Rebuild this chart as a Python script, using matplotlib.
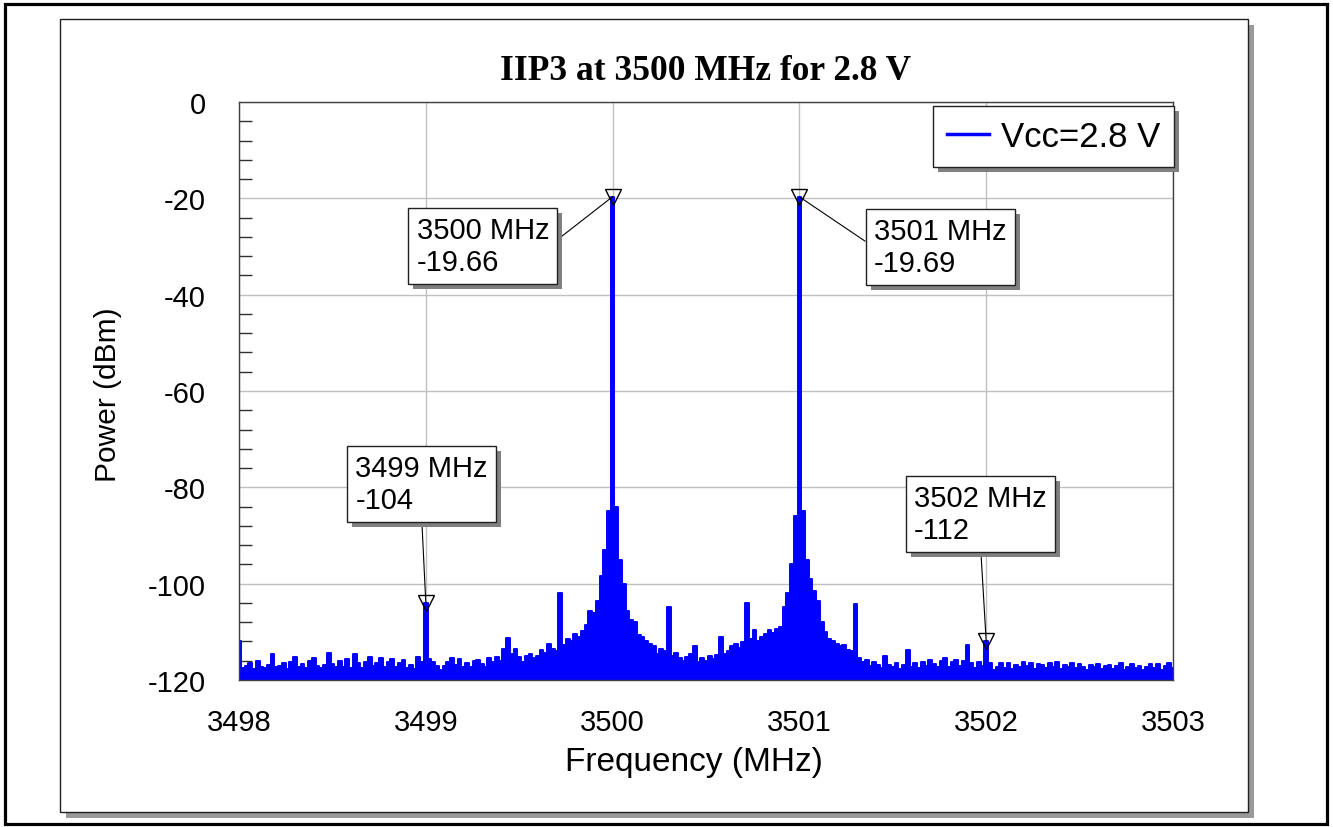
import matplotlib
matplotlib.use('Agg')
import matplotlib.pyplot as plt
import matplotlib.patheffects as pe
from matplotlib.patches import Rectangle
from matplotlib.ticker import MultipleLocator
import numpy as np

plt.rcParams['font.family'] = ['Liberation Sans', 'DejaVu Sans']
plt.rcParams['axes.unicode_minus'] = False

# measured spectrum, 0.02 MHz bins from 3498 to 3503 MHz (dBm)
power = [
    -112, -117.5, -117, -116.5, -117.8, -116, -117.2, -117.6, -116.8, -114.5,
    -117.3, -117, -116.5, -117.8, -116.2, -115.3, -117.2, -116.6, -117.5, -116,
    -115.5, -117, -117.6, -116.8, -114.3, -116.7, -117.4, -116, -117.2, -115.7,
    -117.5, -114.7, -116.5, -117.6, -116.2, -115.2, -117, -116.4, -115.4, -117.3,
    -116.2, -115.6, -117.4, -116.5, -115.8, -117.5, -116.9, -117.8, -115.3, -116.2,
    -104, -115.6, -116.2, -117, -118, -117, -116.2, -115.5, -116.8, -115.6,
    -117.2, -116.5, -117.4, -116, -115.8, -116.7, -117.2, -115.4, -116.2, -115.2,
    -116, -113.5, -111.3, -114.5, -113.5, -115.3, -116.2, -115, -114.7, -115.5,
    -115, -113.8, -114.3, -112.5, -113.6, -114, -102, -112.8, -111.5, -112,
    -110.5, -111, -109.8, -108.5, -105.6, -106, -103.5, -98.5, -93, -85,
    -19.66, -84, -95, -100, -105.7, -107.5, -108, -110.7, -111, -112,
    -112.5, -113, -114.5, -113.5, -114, -104.8, -115, -114.3, -115.5, -116,
    -115.3, -114.6, -113, -116.2, -115.4, -116, -115, -115.6, -114.8, -111,
    -114.5, -114, -113, -112.5, -113.4, -112.2, -104, -111.5, -109.6, -111.8,
    -111, -110.5, -109.6, -110.2, -109.5, -109, -104.8, -102, -96, -86,
    -19.69, -85, -95, -99, -101.5, -103.5, -108, -110, -111.5, -112,
    -112.5, -113, -112.7, -113.8, -114, -104.2, -115.5, -116.3, -115.8, -117,
    -116.2, -116.8, -117.5, -115, -116.8, -117.3, -116.5, -117.8, -116.8, -113.8,
    -117.2, -116.5, -117.6, -116.2, -117, -115.8, -116.6, -117.4, -116, -115.5,
    -117.2, -116.3, -115.8, -117, -116, -112.7, -116.5, -117.5, -116.2, -117,
    -112, -116.5, -118, -117.2, -116.4, -117.6, -116.5, -117.8, -116.8, -117.3,
    -116.2, -117, -116.4, -117.7, -116.6, -116.8, -117.6, -116.5, -117.2, -116.3,
    -117.8, -116.9, -117.2, -116.4, -117.6, -116.7, -117.3, -117.9, -116.8, -117.4,
    -116.6, -117.8, -117, -116.9, -117.7, -117.1, -116.5, -117.9, -117.2, -116.7,
    -117.6, -117, -118, -117.3, -116.7, -117.5, -116.6, -117.9, -117.1, -116.4,
    -117.6,
]
freq = np.linspace(3498, 3503, len(power))

# marker readouts
marker_freq = [3499, 3500, 3501, 3502]
marker_power = [-104, -19.66, -19.69, -112]
marker_text = ['3499 MHz\n-104', '3500 MHz\n-19.66', '3501 MHz\n-19.69', '3502 MHz\n-112']

series_label = 'Vcc=2.8 V'
title = 'IIP3 at 3500 MHz for 2.8 V'

W, H = 1333, 828
fig = plt.figure(figsize=(W / 100, H / 100), dpi=100)


def px_rect(x0, y0, x1, y1, **kw):
    return Rectangle((x0 / W, 1 - y1 / H), (x1 - x0) / W, (y1 - y0) / H,
                     transform=fig.transFigure, **kw)


# outer frame, panel + its shadow
fig.add_artist(px_rect(66, 26, 1254, 819, fc='#999999', ec='none', zorder=-3))
fig.add_artist(px_rect(60, 20, 1248, 813, fc='white', ec='#202020', lw=1, zorder=-2))
fig.add_artist(px_rect(5, 5, 1327, 825, fill=False, ec='black', lw=2.3, zorder=-1))

ax = fig.add_axes([239 / W, 1 - 681 / H, 934 / W, 578 / H])
ax.fill_between(freq, power, -120, step='mid', color='#0000ff', lw=0)
ax.plot(freq, power, drawstyle='steps-mid', color='#0000ff', lw=1.4)
ax.plot([], [], color='#0000ff', lw=2.5, label=series_label)
ax.plot(marker_freq, marker_power, 'v', ms=12, mfc='none', mec='black', mew=1, ls='none', zorder=4)

shadow = [pe.SimplePatchShadow(offset=(3.6, -3.6), shadow_rgbFace='#808080', alpha=1), pe.Normal()]

# text box positions (data coords) and where the leader line leaves the box
box_pos = [(3498.977, -79.3), (3499.306, -29.9), (3501.753, -30.1), (3501.969, -85.5)]
box_rel = [(0.5, 0), (1, 0.5), (0, 0.5), (0.5, 0)]
for f, p, txt, pos, rp in zip(marker_freq, marker_power, marker_text, box_pos, box_rel):
    t = ax.annotate(txt, xy=(f, p), xytext=pos, ha='center', va='center',
                    multialignment='left', fontsize=21, linespacing=1.17,
                    bbox=dict(boxstyle='square,pad=0.28', fc='white', ec='#202020', lw=1),
                    arrowprops=dict(arrowstyle='-', color='black', lw=0.8,
                                    shrinkA=0, shrinkB=0, relpos=rp),
                    zorder=5)
    t.get_bbox_patch().set_path_effects(shadow)

ax.set_xlim(3498, 3503)
ax.set_ylim(-120, 0)
ax.xaxis.set_major_locator(MultipleLocator(1))
ax.xaxis.set_minor_locator(MultipleLocator(0.2))
ax.yaxis.set_major_locator(MultipleLocator(20))
ax.yaxis.set_minor_locator(MultipleLocator(4))
ax.tick_params(which='major', length=0, labelsize=21)
ax.tick_params(axis='y', which='major', pad=24)
ax.tick_params(axis='x', which='major', pad=20)
ax.tick_params(axis='y', which='minor', direction='in', length=9.5, width=1, color='#303030')
ax.tick_params(axis='x', which='minor', direction='in', length=2.5, width=1, color='#303030')
ax.grid(which='major', color='#c0c0c0', lw=1)
ax.set_axisbelow(True)
for s in ax.spines.values():
    s.set_color('#404040')
    s.set_linewidth(1)

ax.set_xlabel('Frequency (MHz)', fontsize=24)
ax.set_ylabel('Power (dBm)', fontsize=21.5)
ax.xaxis.set_label_coords(0.487, -0.114)
ax.yaxis.set_label_coords(-0.125, 0.495)

leg = ax.legend(loc='upper right', bbox_to_anchor=(1.001, 0.993), borderaxespad=0,
                fontsize=25, fancybox=False, edgecolor='#202020', framealpha=1,
                handlelength=1.2, handletextpad=0.35, borderpad=0.4)
leg.get_frame().set_linewidth(1)
leg.get_frame().set_path_effects(shadow)

fig.text(706 / W, 1 - 72 / H, title, ha='center', va='center', fontsize=25.5,
         family='Liberation Serif', weight='bold')

fig.savefig('out.png', dpi=100)
